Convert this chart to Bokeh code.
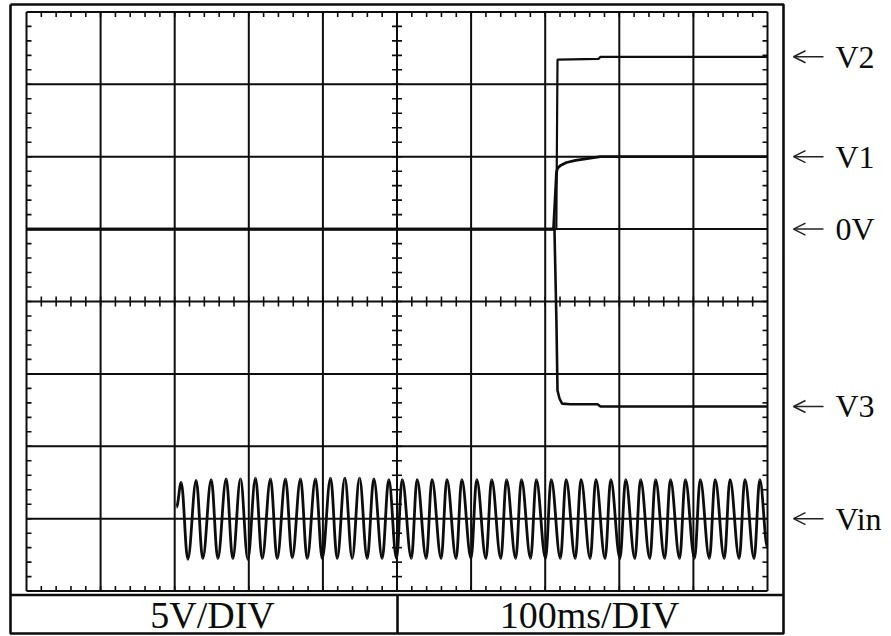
import numpy as np
from bokeh.plotting import figure
from bokeh.models import ColumnDataSource, Arrow, OpenHead, Range1d
from bokeh.embed import file_html
from bokeh.resources import INLINE
from bokeh.core.properties import value

# ---------------- data (time in ms, volts on the 5 V/DIV screen scale) ----------------
MS_PER_DIV = 100
V_PER_DIV = 5
N_XDIV = 10
N_YDIV = 8
ZERO_V_DIV_ABOVE_CENTRE = 1          # 0 V reference sits one division above screen centre

# step response traces
v2_t = [0, 715.0, 716.6, 771.9, 774.6, 1000]
v2_v = [0, 0, 11.7, 11.75, 11.9, 11.9]

v1_t = [0, 711.2, 715.2, 716.6, 720.6, 728.7, 740.9, 761.1, 774.6, 1000]
v1_v = [0, 0, 3.9, 4.2, 4.4, 4.6, 4.75, 4.9, 5.0, 5.0]

v3_t = [0, 712.5, 715.2, 716.6, 719.3, 722.8, 733.6, 770.6, 774.6, 1000]
v3_v = [0, 0, -6.5, -11.15, -11.7, -12.05, -12.1, -12.1, -12.25, -12.25]

# input sine (drawn about its own channel position)
vin_offset = -20
vin_start_t = 202.4
vin_start_v = 0.8
vin_peak_t = [208.8, 229.0, 249.3, 269.5, 288.8, 309.0, 329.3, 349.5, 369.8, 390.0,
              410.3, 429.6, 449.4, 468.7, 488.9, 507.0, 527.1, 547.2, 567.3, 587.4,
              607.6, 627.7, 647.8, 667.9, 688.0, 708.1, 728.2, 748.3, 768.4, 788.5,
              808.6, 828.7, 848.9, 869.0, 889.1, 909.2, 929.3, 949.4, 969.5, 989.6]
vin_peak_v = [2.5, 2.65, 2.7, 2.75, 2.75, 2.8, 2.75, 2.75, 2.75, 2.75,
              2.8, 2.8, 2.8, 2.75, 2.7, 2.7, 2.7, 2.7, 2.7, 2.7,
              2.7, 2.7, 2.7, 2.7, 2.7, 2.7, 2.7, 2.7, 2.7, 2.7,
              2.7, 2.7, 2.7, 2.7, 2.7, 2.7, 2.7, 2.7, 2.7, 2.7]
vin_trough_t = [217.7, 237.9, 258.2, 278.4, 298.7, 318.1, 338.3, 358.6, 378.8, 399.1,
                419.3, 439.5, 459.8, 480.0, 499.3, 519.4, 539.5, 559.6, 579.8, 599.9,
                620.0, 640.1, 660.2, 680.3, 700.4, 720.5, 740.6, 760.7, 780.8, 800.9,
                821.0, 841.2, 861.3, 881.4, 901.5, 921.6, 941.7, 961.8, 981.9, 1000.0]
vin_trough_v = [-2.8, -2.75, -2.75, -2.75, -2.8, -2.75, -2.75, -2.7, -2.75, -2.75,
                -2.75, -2.75, -2.75, -2.75, -2.75, -2.75, -2.75, -2.75, -2.75, -2.75,
                -2.75, -2.75, -2.75, -2.75, -2.75, -2.75, -2.75, -2.75, -2.75, -2.75,
                -2.75, -2.75, -2.75, -2.75, -2.75, -2.75, -2.75, -2.75, -2.75, -2.0]

level_names = ["V2", "V1", "0V", "V3", "Vin"]
level_values = [11.9, 5.0, 0.0, -12.25, -20.0]
scale_labels = ["5V/DIV", "100ms/DIV"]

# ---------------- screen geometry ----------------
W, H = 891, 636
GX0, GX1 = 26.0, 767.0        # graticule left/right in px
GY0, GY1 = 11.4, 590.6        # graticule top/bottom in px
T_END = N_XDIV * MS_PER_DIV
V_CENTRE = -ZERO_V_DIV_ABOVE_CENTRE * V_PER_DIV
V_TOP = V_CENTRE + N_YDIV / 2 * V_PER_DIV
V_BOT = V_CENTRE - N_YDIV / 2 * V_PER_DIV
MS_PER_PX = T_END / (GX1 - GX0)
V_PER_PX = (V_TOP - V_BOT) / (GY1 - GY0)


def px_x(px):
    return (px - GX0) * MS_PER_PX


def px_y(py):
    return V_TOP - (py - GY0) * V_PER_PX


p = figure(width=W, height=H, output_backend="svg", toolbar_location=None,
           x_range=Range1d(px_x(0), px_x(W)), y_range=Range1d(px_y(H), px_y(0)),
           x_axis_type=None, y_axis_type=None, min_border=0,
           background_fill_color="white", border_fill_color="white")
p.grid.visible = False
p.outline_line_color = None

INK = "#0d0d0d"

# outer frame and caption strip
fx0, fx1, fy0, fy1 = px_x(10), px_x(783), px_y(4), px_y(633)
strip_top = px_y(594.5)
p.multi_line(xs=[[fx0, fx1, fx1, fx0, fx0], [fx0, fx1], [px_x(397), px_x(397)]],
             ys=[[fy0, fy0, fy1, fy1, fy0], [strip_top, strip_top], [strip_top, fy1]],
             line_color=INK, line_width=2.6)

# graticule
xt = np.arange(0, T_END + 1, MS_PER_DIV)
yv = np.arange(V_BOT, V_TOP + 0.1, V_PER_DIV)
p.segment(x0=xt, y0=[V_BOT] * len(xt), x1=xt, y1=[V_TOP] * len(xt), line_color=INK, line_width=2)
p.segment(x0=[0] * len(yv), y0=yv, x1=[T_END] * len(yv), y1=yv, line_color=INK, line_width=2)

# minor ticks (5 per division)
tl_x = 5 * MS_PER_PX
tl_y = 5 * V_PER_PX
mt = np.arange(0, T_END + 0.1, MS_PER_DIV / 5)[1:-1]
mv = np.arange(V_BOT, V_TOP + 0.01, V_PER_DIV / 5)[1:-1]
tx0 = np.concatenate([mt, mt, mt, np.zeros_like(mv), np.full_like(mv, T_END), np.full_like(mv, T_END / 2 - tl_x)])
tx1 = np.concatenate([mt, mt, mt, np.full_like(mv, tl_x), np.full_like(mv, T_END - tl_x), np.full_like(mv, T_END / 2 + tl_x)])
ty0 = np.concatenate([np.full_like(mt, V_TOP), np.full_like(mt, V_BOT), np.full_like(mt, V_CENTRE - tl_y), mv, mv, mv])
ty1 = np.concatenate([np.full_like(mt, V_TOP - tl_y), np.full_like(mt, V_BOT + tl_y), np.full_like(mt, V_CENTRE + tl_y), mv, mv, mv])
p.segment(x0=tx0, y0=ty0, x1=tx1, y1=ty1, line_color=INK, line_width=1.6)

# step traces
for tt, vv, lw in ((v2_t, v2_v, 2.2), (v1_t, v1_v, 2.8), (v3_t, v3_v, 2.6)):
    p.line(tt, vv, line_color=INK, line_width=lw)

# input sine as smooth half-cycles between the read extrema
ext_t = [vin_start_t]
ext_v = [vin_start_v]
for a, b, c, d in zip(vin_peak_t, vin_peak_v, vin_trough_t, vin_trough_v):
    ext_t += [a, c]
    ext_v += [b, d]
ext_t = np.array(ext_t)
ext_v = np.array(ext_v) + vin_offset
k = 0.3642
dt = ext_t[1:] - ext_t[:-1]
p.bezier(x0=ext_t[:-1], y0=ext_v[:-1], x1=ext_t[1:], y1=ext_v[1:],
         cx0=ext_t[:-1] + k * dt, cy0=ext_v[:-1], cx1=ext_t[1:] - k * dt, cy1=ext_v[1:],
         line_color=INK, line_width=2.8)

# right-hand level markers
n = len(level_values)
arrow_src = ColumnDataSource(dict(xs=[px_x(823)] * n, xe=[px_x(793)] * n, ys=level_values, ye=level_values))
p.add_layout(Arrow(source=arrow_src, x_start="xs", y_start="ys", x_end="xe", y_end="ye",
                   line_color="#222222", line_width=1.5,
                   end=OpenHead(size=12, line_color="#222222", line_width=1.5)))
p.text(x=[px_x(835)] * n, y=level_values, text=level_names, text_font=value("Liberation Serif"),
       text_font_size="32px", text_baseline="middle", text_align="left", text_color=INK)

# caption strip
cap_y = px_y(614.5)
p.text(x=[px_x(212), px_x(589)], y=[cap_y, cap_y], text=scale_labels,
       text_font=value("Liberation Serif"), text_font_size="38px",
       text_baseline="middle", text_align="center", text_color=INK)

open("out.html", "w").write(file_html(p, INLINE))
